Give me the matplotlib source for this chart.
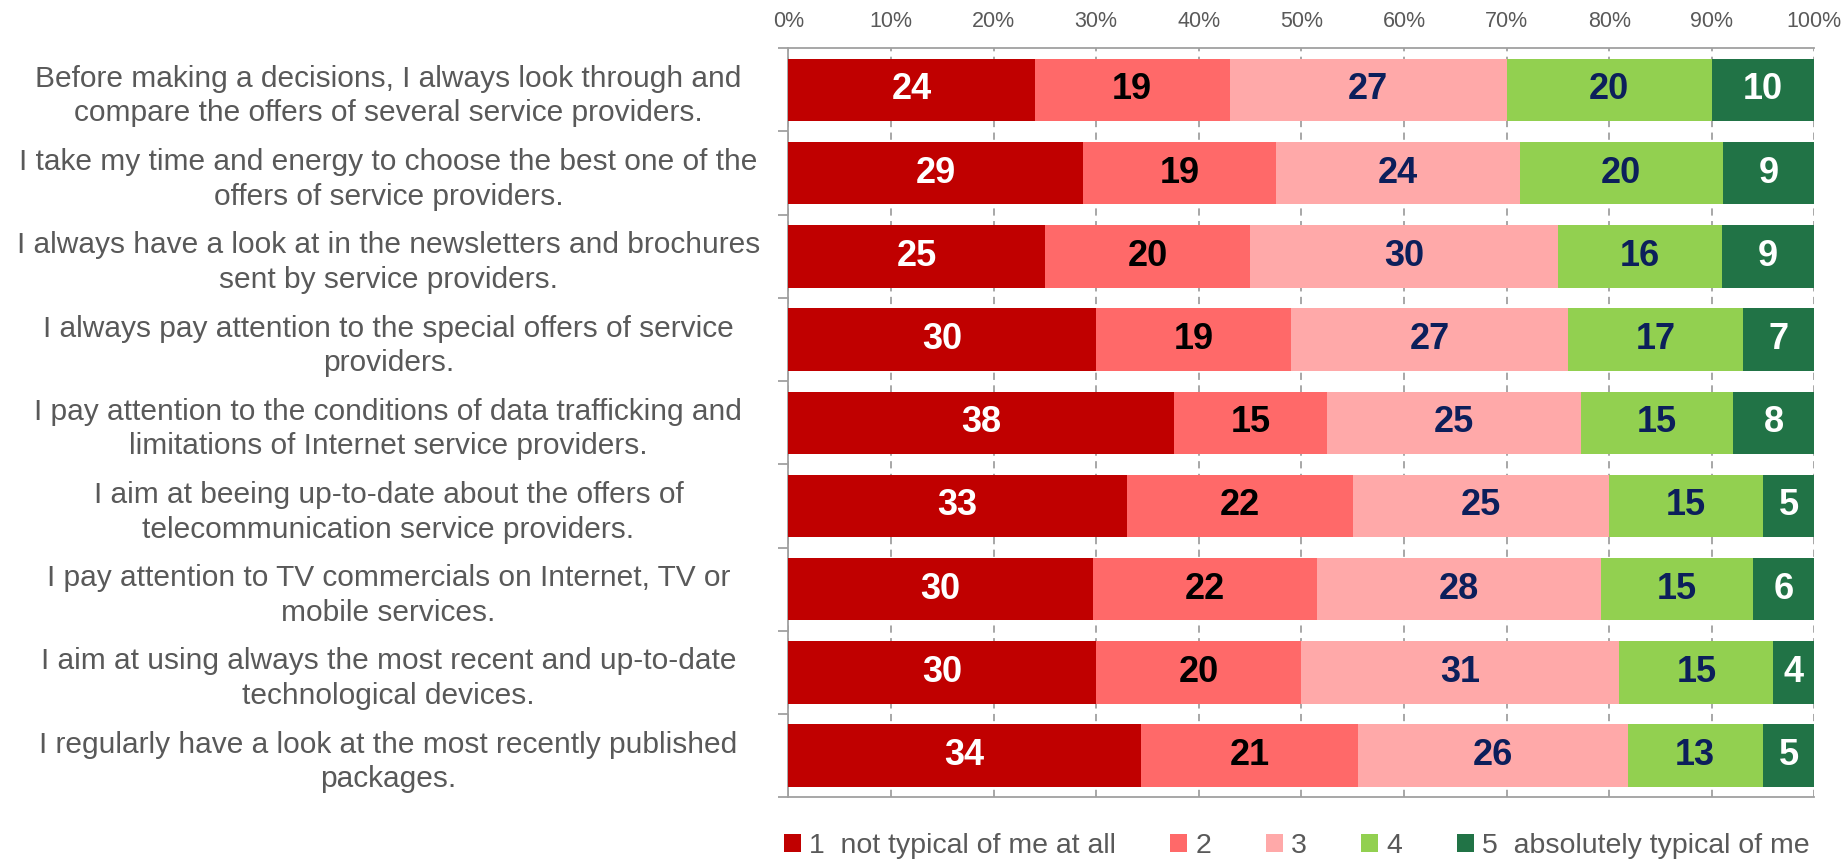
import numpy as np
import matplotlib.pyplot as plt
from matplotlib.ticker import FixedLocator, PercentFormatter

# Survey statements (top to bottom) and answer shares per scale point
statements = [
    "Before making a decisions, I always look through and\ncompare the offers of several service providers.",
    "I take my time and energy to choose the best one of the\noffers of service providers.",
    "I always have a look at in the newsletters and brochures\nsent by service providers.",
    "I always pay attention to the special offers of service\nproviders.",
    "I pay attention to the conditions of data trafficking and\nlimitations of Internet service providers.",
    "I aim at beeing up-to-date about the offers of\ntelecommunication service providers.",
    "I pay attention to TV commercials on Internet, TV or\nmobile services.",
    "I aim at using always the most recent and up-to-date\ntechnological devices.",
    "I regularly have a look at the most recently published\npackages.",
]
scale_1 = [24, 29, 25, 30, 38, 33, 30, 30, 34]
scale_2 = [19, 19, 20, 19, 15, 22, 22, 20, 21]
scale_3 = [27, 24, 30, 27, 25, 25, 28, 31, 26]
scale_4 = [20, 20, 16, 17, 15, 15, 15, 15, 13]
scale_5 = [10, 9, 9, 7, 8, 5, 6, 4, 5]
legend_labels = ["1  not typical of me at all", "2", "3", "4", "5  absolutely typical of me"]

colors = ["#C00000", "#FF6969", "#FFA9A9", "#92D050", "#217346"]
text_colors = ["white", "black", "#0C1F5B", "#0C1F5B", "white"]

font = "Liberation Sans"
gray = "#595959"
line_gray = "#A0A0A0"

series = np.array([scale_1, scale_2, scale_3, scale_4, scale_5], dtype=float)
shares = series / series.sum(axis=0) * 100  # stacked to 100%

fig = plt.figure(figsize=(18.42, 8.61), dpi=100)
ax = fig.add_axes([0.428, 0.074, 0.557, 0.870])

y = np.arange(len(statements))
left = np.zeros(len(statements))
for k in range(5):
    ax.barh(y, shares[k], left=left, height=0.75, color=colors[k],
            label=legend_labels[k], zorder=3)
    for i in range(len(statements)):
        ax.text(left[i] + shares[k][i] / 2, y[i], str(int(series[k][i])),
                ha="center", va="center", color=text_colors[k],
                fontsize=26, fontweight="bold", family=font, zorder=4)
    left += shares[k]

ax.set_xlim(0, 100)
ax.set_ylim(len(statements) - 0.5, -0.5)
ax.xaxis.tick_top()
ax.set_xticks(np.arange(0, 101, 10))
ax.xaxis.set_major_formatter(PercentFormatter(decimals=0))
ax.tick_params(axis="x", length=0, pad=12, labelsize=15.5, labelcolor=gray)
for lbl in ax.get_xticklabels():
    lbl.set_family(font)
ax.grid(axis="x", color=line_gray, linestyle=(0, (4, 3)), linewidth=1.3, zorder=0)

ax.set_yticks(y)
ax.set_yticklabels(statements, fontsize=21.5, color=gray, family=font,
                   ha="center", linespacing=1.3)
ax.tick_params(axis="y", which="major", length=0, pad=288)
ax.yaxis.set_minor_locator(FixedLocator(np.arange(-0.5, len(statements), 1)))
ax.tick_params(axis="y", which="minor", length=7, color=line_gray, width=1.3)

for side in ["left", "top", "bottom"]:
    ax.spines[side].set_color(line_gray)
    ax.spines[side].set_linewidth(1.3)
ax.spines["right"].set_visible(False)

fig.legend(loc="center", bbox_to_anchor=(0.704, 0.017), ncol=5,
           frameon=False, handlelength=0.6, handleheight=0.6, handletextpad=0.3,
           columnspacing=1.9, prop={"family": font, "size": 20.5},
           labelcolor=gray)

fig.savefig("out.png", dpi=100)
